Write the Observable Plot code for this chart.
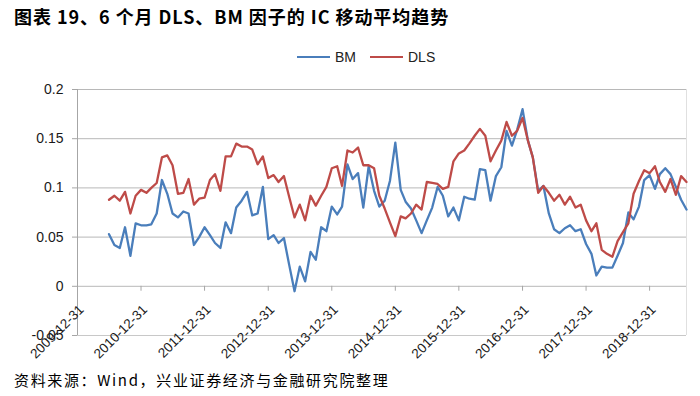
<!DOCTYPE html>
<html><head><meta charset="utf-8">
<script src="https://cdn.jsdelivr.net/npm/d3@7"></script>
<script src="https://cdn.jsdelivr.net/npm/@observablehq/plot@0.6"></script>
<style>
body{margin:0;background:#fff;width:700px;height:396px;overflow:hidden;position:relative;font-family:"Liberation Sans",Arial,sans-serif;}
#title{position:absolute;left:14px;top:3px;font-family:"Noto Sans CJK SC";font-weight:700;font-size:18px;line-height:26px;color:#000;white-space:nowrap;letter-spacing:0.95px;}
.item{position:absolute;top:48px;height:18px;display:flex;align-items:center;font-size:14px;color:#222;white-space:nowrap;}
.sw{display:inline-block;width:33px;height:0;border-top:2.5px solid;margin-right:5px}
#chart{position:absolute;left:0;top:75px;}
#caption{position:absolute;left:14px;top:368px;font-family:"Noto Sans CJK SC";font-size:15px;line-height:24px;color:#000;white-space:nowrap;letter-spacing:1.65px;}
</style></head>
<body>
<div id="title">图表 19、6 个月 DLS、BM 因子的 IC 移动平均趋势</div>
<div class="item" style="left:297px"><span class="sw" style="border-color:#4a7ebb"></span>BM</div>
<div class="item" style="left:370px"><span class="sw" style="border-color:#be4b48"></span>DLS</div>
<div id="chart"></div>
<div id="caption">资料来源：Wind，兴业证券经济与金融研究院整理</div>
<script>
// Monthly 6-month moving average IC, first value = 2010-06-30
const startYear = 2010, startMonth = 6; // June
const bm = [0.053,0.042,0.039,0.060,0.031,0.064,0.062,0.062,0.063,0.074,0.108,0.094,0.074,0.070,0.076,0.074,0.042,0.050,0.060,0.052,0.044,0.039,0.065,0.054,0.080,0.087,0.096,0.072,0.074,0.101,0.048,0.052,0.044,0.049,0.022,-0.005,0.020,0.005,0.035,0.027,0.060,0.056,0.081,0.073,0.081,0.124,0.109,0.115,0.080,0.122,0.097,0.081,0.087,0.107,0.146,0.098,0.086,0.079,0.067,0.054,0.067,0.080,0.101,0.092,0.071,0.080,0.067,0.091,0.089,0.088,0.119,0.118,0.087,0.112,0.121,0.158,0.143,0.159,0.180,0.148,0.131,0.097,0.102,0.074,0.058,0.054,0.059,0.062,0.056,0.058,0.043,0.033,0.011,0.020,0.019,0.019,0.031,0.044,0.075,0.068,0.081,0.108,0.113,0.099,0.114,0.120,0.114,0.101,0.088,0.078];
const dls = [0.088,0.092,0.087,0.096,0.074,0.092,0.098,0.095,0.100,0.105,0.131,0.133,0.123,0.094,0.095,0.109,0.083,0.089,0.090,0.108,0.114,0.097,0.132,0.132,0.145,0.142,0.142,0.139,0.124,0.132,0.110,0.113,0.106,0.112,0.091,0.070,0.083,0.067,0.092,0.082,0.092,0.101,0.120,0.122,0.102,0.138,0.136,0.141,0.123,0.123,0.120,0.092,0.079,0.065,0.051,0.071,0.069,0.074,0.083,0.078,0.106,0.105,0.104,0.099,0.101,0.127,0.135,0.138,0.145,0.153,0.160,0.153,0.127,0.138,0.148,0.167,0.153,0.158,0.171,0.148,0.131,0.095,0.102,0.095,0.087,0.093,0.083,0.091,0.080,0.083,0.067,0.056,0.064,0.037,0.033,0.030,0.046,0.055,0.064,0.094,0.107,0.118,0.115,0.122,0.106,0.096,0.109,0.093,0.112,0.106];
const xTickLabels = ["2009-12-31","2010-12-31","2011-12-31","2012-12-31","2013-12-31","2014-12-31","2015-12-31","2016-12-31","2017-12-31","2018-12-31"];
const yTicks = [0.2,0.15,0.1,0.05,0,-0.05];
const seriesNames = ["BM","DLS"];
const colors = ["#4a7ebb","#be4b48"];

const monthEnd = i => new Date(Date.UTC(startYear, startMonth - 1 + i + 1, 0));
const rows = [];
bm.forEach((v,i)=>rows.push({date:monthEnd(i), value:v, series:"BM"}));
dls.forEach((v,i)=>rows.push({date:monthEnd(i), value:v, series:"DLS"}));
const tickDates = xTickLabels.map(s=>new Date(s+"T00:00:00Z"));
const xDomain = [tickDates[0], monthEnd(bm.length-1)];

const chart = Plot.plot({
  width:700, height:285,
  marginTop:14, marginBottom:25, marginLeft:77, marginRight:14,
  x:{type:"utc", domain:xDomain, axis:null},
  y:{domain:[-0.05,0.2], axis:null},
  color:{domain:seriesNames, range:colors},
  style:{fontFamily:"'Liberation Sans', Arial, sans-serif", fontSize:"14px", color:"#1a1a1a", background:"#fff", overflow:"visible"},
  marks:[
    Plot.ruleY(yTicks.filter(d=>d>-0.05), {stroke:"#b8b8b8", strokeWidth:1}),
    Plot.ruleY([-0.05], {stroke:"#c8c8c8", strokeWidth:1}),
    Plot.ruleX([xDomain[1]], {stroke:"#e0e0e0", strokeWidth:1}),
    Plot.ruleX([xDomain[0]], {stroke:"#a6a6a6", strokeWidth:1}),
    Plot.axisY({ticks:yTicks, label:null, tickSize:5, tickPadding:9, tickFormat:d=>String(d), stroke:"#a6a6a6", fill:"#1a1a1a", fontSize:14}),
    Plot.ruleX(tickDates, {y1:0, y2:-0.005, stroke:"#a6a6a6"}),
    Plot.text(xTickLabels, {x:(d,i)=>tickDates[i], y:0, text:d=>d, rotate:-45, textAnchor:"end", lineAnchor:"middle", dx:4, dy:21, fontSize:13.5, fill:"#1a1a1a"}),
    Plot.line(rows, {x:"date", y:"value", stroke:"series", z:"series", strokeWidth:2.3, strokeLinejoin:"round"})
  ]
});
document.getElementById("chart").appendChild(chart);
</script>
</body></html>
